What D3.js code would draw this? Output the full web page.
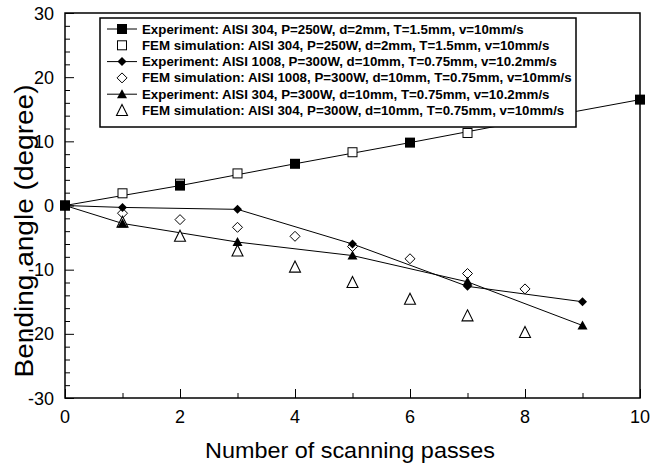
<!DOCTYPE html>
<html><head><meta charset="utf-8">
<script src="https://cdn.jsdelivr.net/npm/d3@7"></script>
<style>body{margin:0;background:#fff}svg{display:block}text{font-family:"Liberation Sans",Arial,sans-serif}</style>
</head><body>
<svg id="c" width="651" height="463"></svg>
<script>
// Data
const exp304a = [[0,0],[2,3.1],[4,6.5],[6,9.8],[8,13.2],[10,16.5]];
const fem304a = [[0,0],[1,1.9],[2,3.4],[3,5.0],[5,8.3],[7,11.3]];
const exp1008 = [[0,0],[1,-0.3],[3,-0.6],[5,-6.0],[7,-12.6],[9,-15.0]];
const fem1008 = [[1,-1.2],[2,-2.2],[3,-3.4],[4,-4.8],[5,-6.4],[6,-8.3],[7,-10.6],[8,-13.0]];
const exp304b = [[0,0],[1,-2.8],[3,-5.7],[5,-7.8],[7,-11.9],[9,-18.7]];
const fem304b = [[1,-2.6],[2,-4.8],[3,-7.1],[4,-9.6],[5,-12.0],[6,-14.6],[7,-17.2],[8,-19.8]];
const legendLabels = [
 "Experiment: AISI 304, P=250W, d=2mm, T=1.5mm, v=10mm/s",
 "FEM simulation: AISI 304, P=250W, d=2mm, T=1.5mm, v=10mm/s",
 "Experiment: AISI 1008, P=300W, d=10mm, T=0.75mm, v=10.2mm/s",
 "FEM simulation: AISI 1008, P=300W, d=10mm, T=0.75mm, v=10mm/s",
 "Experiment: AISI 304, P=300W, d=10mm, T=0.75mm, v=10.2mm/s",
 "FEM simulation: AISI 304, P=300W, d=10mm, T=0.75mm, v=10mm/s"];
const xTicks = [0,2,4,6,8,10];
const yTicks = [-30,-20,-10,0,10,20,30];
const xLabel = "Number of scanning passes";
const yLabel = "Bending angle (degree)";

const svg = d3.select("#c");
const L=65,R=640,T=13,B=398;
const x = d3.scaleLinear().domain([0,10]).range([L,R]);
const y = d3.scaleLinear().domain([-30,30]).range([B,T]);

// axes with inward ticks
const gx = svg.append("g").attr("transform",`translate(0,${B})`);
gx.call(d3.axisBottom(x).tickValues(d3.range(0,11,1)).tickSize(-6).tickFormat(""));
gx.selectAll(".tick line").attr("y2",d=>d%2===0?-9:-5);
gx.select(".domain").remove();
const gy = svg.append("g").attr("transform",`translate(${L},0)`);
gy.call(d3.axisLeft(y).tickValues(d3.range(-30,31,2)).tickSize(-6).tickFormat(""));
gy.selectAll(".tick line").attr("x2",d=>d%10===0?9:5);
gy.select(".domain").remove();
svg.selectAll(".tick line").attr("stroke","#000").attr("stroke-width",1);

svg.append("g").selectAll("text").data(xTicks).join("text")
 .attr("x",d=>x(d)).attr("y",B+25).attr("text-anchor","middle").attr("font-size",18).text(d=>d);
svg.append("g").selectAll("text").data(yTicks).join("text")
 .attr("x",L-11).attr("y",d=>y(d)+6.5).attr("text-anchor","end").attr("font-size",18).text(d=>d);

svg.append("text").attr("x",350).attr("y",458).attr("text-anchor","middle").attr("font-size",22)
 .attr("textLength",290).attr("lengthAdjust","spacingAndGlyphs").text(xLabel);
svg.append("text").attr("transform",`translate(33,231) scale(1.2,1) rotate(-90)`).attr("text-anchor","middle").attr("font-size",21)
 .attr("textLength",293).attr("lengthAdjust","spacingAndGlyphs").text(yLabel);

// symbols
function sym(g,type,cx,cy){
  const s = {
    fsq:()=>g.append("rect").attr("x",cx-5).attr("y",cy-5).attr("width",10).attr("height",10).attr("fill","#000"),
    osq:()=>g.append("rect").attr("x",cx-4.5).attr("y",cy-4.5).attr("width",9).attr("height",9).attr("fill","#fff").attr("stroke","#000").attr("stroke-width",1),
    fdi:()=>g.append("path").attr("d",`M${cx},${cy-4.5}L${cx+4.5},${cy}L${cx},${cy+4.5}L${cx-4.5},${cy}Z`).attr("fill","#000"),
    odi:()=>g.append("path").attr("d",`M${cx},${cy-5}L${cx+5},${cy}L${cx},${cy+5}L${cx-5},${cy}Z`).attr("fill","#fff").attr("stroke","#000").attr("stroke-width",1),
    ftr:()=>g.append("path").attr("d",`M${cx},${cy-5}L${cx+5},${cy+4}L${cx-5},${cy+4}Z`).attr("fill","#000"),
    otr:()=>g.append("path").attr("d",`M${cx},${cy-6}L${cx+5.5},${cy+5}L${cx-5.5},${cy+5}Z`).attr("fill","#fff").attr("stroke","#000").attr("stroke-width",1.1)
  };
  s[type]();
}
const line = d3.line().x(d=>x(d[0])).y(d=>y(d[1]));
const series = [
 {d:exp304a,t:"fsq",l:true},{d:fem304a,t:"osq",l:false},
 {d:exp1008,t:"fdi",l:true},{d:fem1008,t:"odi",l:false},
 {d:exp304b,t:"ftr",l:true},{d:fem304b,t:"otr",l:false}];
const gp = svg.append("g");
series.forEach(s=>{ if(s.l) gp.append("path").attr("d",line(s.d)).attr("fill","none").attr("stroke","#000").attr("stroke-width",1); });
[1,3,5,0,2,4].forEach(i=>{ const s=series[i]; s.d.forEach(p=>sym(gp,s.t,x(p[0]),y(p[1]))); });

// frame
svg.append("rect").attr("x",L).attr("y",T).attr("width",R-L).attr("height",B-T).attr("fill","none").attr("stroke","#000").attr("stroke-width",1.5);

// legend
const lg = svg.append("g");
lg.append("rect").attr("x",100).attr("y",18).attr("width",476).attr("height",109).attr("fill","#fff").attr("stroke","#000").attr("stroke-width",1.5);
series.forEach((s,i)=>{
  const cy = 29 + i*16.3;
  if(s.l) lg.append("line").attr("x1",107).attr("x2",137).attr("y1",cy).attr("y2",cy).attr("stroke","#000").attr("stroke-width",1);
  sym(lg,s.t,122,cy);
  lg.append("text").attr("x",142).attr("y",cy+4.5).attr("font-size",13.3).attr("font-weight","bold").text(legendLabels[i]);
});
</script>
</body></html>
